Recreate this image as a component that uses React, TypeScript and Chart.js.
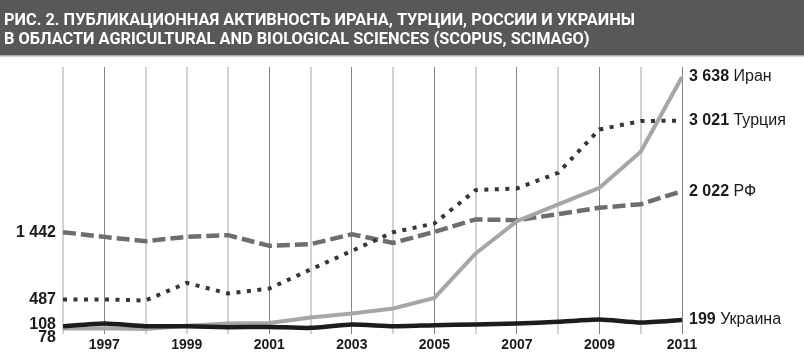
import React, { useEffect, useRef } from 'react';
import { Chart, registerables } from 'chart.js';

Chart.register(...registerables);

const years = ['1996', '1997', '1998', '1999', '2000', '2001', '2002', '2003', '2004', '2005', '2006', '2007', '2008', '2009', '2010', '2011'];
const iran = [78, 82, 72, 118, 149, 157, 234, 290, 361, 511, 1140, 1598, 1834, 2069, 2579, 3638];
const turkey = [487, 489, 474, 724, 574, 644, 913, 1177, 1440, 1565, 2037, 2061, 2282, 2896, 3014, 3021];
const russia = [1442, 1375, 1314, 1375, 1399, 1248, 1272, 1413, 1290, 1446, 1622, 1612, 1697, 1786, 1838, 2022];
const ukraine = [108, 149, 110, 110, 96, 100, 87, 134, 110, 125, 134, 149, 172, 205, 163, 199];
const seriesNames = ['Украина', 'Иран', 'Турция', 'РФ'];
const labeledYears = ['1997', '1999', '2001', '2003', '2005', '2007', '2009', '2011'];
const darkGridYears = ['1997', '2001', '2003', '2005', '2007', '2009', '2011'];
const titleLines = [
  'РИС. 2. ПУБЛИКАЦИОННАЯ АКТИВНОСТЬ ИРАНА, ТУРЦИИ, РОССИИ И УКРАИНЫ',
  'В ОБЛАСТИ AGRICULTURAL AND BIOLOGICAL SCIENCES (SCOPUS, SCIMAGO)',
];

const fmt = (n: number) => String(n).replace(/\B(?=(\d{3})+(?!\d))/g, ' ');

const FONT = '"Liberation Sans", Arial, sans-serif';

const overlayPlugin = {
  id: 'overlay',
  beforeDraw(chart: any) {
    const ctx = chart.ctx as CanvasRenderingContext2D;
    ctx.save();
    ctx.fillStyle = '#ffffff';
    ctx.fillRect(0, 0, chart.width, chart.height);
    ctx.fillStyle = '#58585a';
    ctx.fillRect(0, 0, chart.width, 55);
    ctx.fillStyle = '#a8a8a8';
    ctx.fillRect(0, 55, chart.width, 1.5);
    ctx.fillStyle = '#ffffff';
    ctx.font = 'bold 16px Roboto, "Liberation Sans", sans-serif';
    ctx.textBaseline = 'alphabetic';
    ctx.textAlign = 'left';
    const w0 = ctx.measureText(titleLines[0]).width;
    const sx = 631 / w0;
    const baselines = [24.5, 44];
    titleLines.forEach((t, i) => {
      ctx.save();
      ctx.translate(4, baselines[i]);
      ctx.scale(sx, 1);
      ctx.fillText(t, 0, 0);
      ctx.restore();
    });
    ctx.restore();
  },
  afterDraw(chart: any) {
    const ctx = chart.ctx as CanvasRenderingContext2D;
    const xs = chart.scales.x;
    const ys = chart.scales.y;
    ctx.save();
    // x tick labels
    ctx.fillStyle = '#1a1a1a';
    ctx.font = `bold 14px ${FONT}`;
    ctx.textAlign = 'center';
    ctx.textBaseline = 'middle';
    years.forEach((y, i) => {
      if (labeledYears.includes(y)) {
        ctx.fillText(y, xs.getPixelForValue(i), 345);
      }
    });
    // left start labels
    const leftOffsets = [-2, 9, 0, 0];
    ctx.textAlign = 'right';
    ctx.font = `bold 16px ${FONT}`;
    chart.data.datasets.forEach((ds: any, di: number) => {
      const v = ds.data[0];
      ctx.fillText(fmt(v), 56, ys.getPixelForValue(v) + leftOffsets[di]);
    });
    // right end labels
    ctx.textAlign = 'left';
    chart.data.datasets.forEach((ds: any, di: number) => {
      const v = ds.data[ds.data.length - 1];
      const y = ys.getPixelForValue(v);
      const x0 = xs.getPixelForValue(years.length - 1) + 7;
      ctx.font = `bold 16px ${FONT}`;
      const num = fmt(v);
      ctx.fillText(num, x0, y);
      const w = ctx.measureText(num + ' ').width;
      ctx.font = `16px ${FONT}`;
      ctx.fillText(seriesNames[di], x0 + w, y);
    });
    ctx.restore();
  },
};

export default function App() {
  const ref = useRef<HTMLCanvasElement | null>(null);
  useEffect(() => {
    document.body.style.margin = '0';
    const canvas = ref.current!;
    const chart = new Chart(canvas, {
      type: 'line',
      data: {
        labels: years,
        datasets: [
          {
            label: seriesNames[0],
            data: ukraine,
            borderColor: '#1c1c1c',
            borderWidth: 4.5,
            pointRadius: 0,
            tension: 0.2,
          },
          {
            label: seriesNames[1],
            data: iran,
            borderColor: '#a6a6a6',
            borderWidth: 4,
            pointRadius: 0,
            tension: 0,
          },
          {
            label: seriesNames[2],
            data: turkey,
            borderColor: '#363636',
            borderWidth: 4,
            borderDash: [4, 6.5],
            borderCapStyle: 'butt',
            pointRadius: 0,
            tension: 0,
          },
          {
            label: seriesNames[3],
            data: russia,
            borderColor: '#6e6e6e',
            borderWidth: 4.5,
            borderDash: [13, 5],
            borderCapStyle: 'butt',
            pointRadius: 0,
            tension: 0,
          },
        ],
      },
      options: {
        responsive: false,
        animation: false,
        devicePixelRatio: 1,
        layout: { padding: { left: 63, right: 122, top: 67, bottom: 20 } },
        plugins: { legend: { display: false }, tooltip: { enabled: false }, title: { display: false } },
        scales: {
          x: {
            display: true,
            offset: false,
            ticks: { display: false },
            border: { display: false },
            grid: {
              drawTicks: false,
              color: (c: any) => (darkGridYears.includes(years[c.index]) ? '#858585' : '#d2d2d2'),
              lineWidth: (c: any) => (darkGridYears.includes(years[c.index]) ? 1 : 2),
            },
          },
          y: {
            display: false,
            min: 0,
            max: 3780,
          },
        },
      },
      plugins: [overlayPlugin],
    });
    return () => chart.destroy();
  }, []);
  return (
    <div style={{ width: 804, height: 354 }}>
      <canvas ref={ref} width={804} height={354} style={{ display: 'block' }} />
    </div>
  );
}
